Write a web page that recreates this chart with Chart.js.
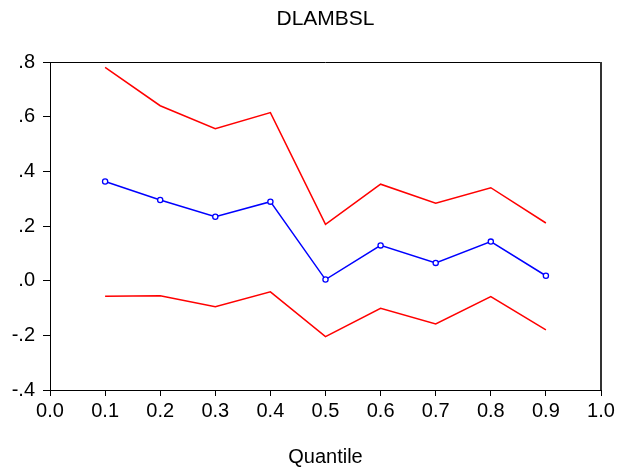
<!DOCTYPE html>
<html>
<head>
<meta charset="utf-8">
<script src="https://cdn.jsdelivr.net/npm/chart.js@4"></script>
<style>
html,body{margin:0;padding:0;background:#fff;}
#wrap{width:627px;height:473px;}
</style>
</head>
<body>
<div id="wrap"><canvas id="c" width="627" height="473"></canvas></div>
<script>
const chartTitle = 'DLAMBSL';
const xAxisTitle = 'Quantile';
const quantiles = [0.1, 0.2, 0.3, 0.4, 0.5, 0.6, 0.7, 0.8, 0.9];
const coef  = [0.363, 0.295, 0.234, 0.289, 0.004, 0.129, 0.065, 0.143, 0.018];
const upper = [0.780, 0.640, 0.556, 0.615, 0.206, 0.353, 0.283, 0.340, 0.211];
const lower = [-0.057, -0.055, -0.095, -0.041, -0.205, -0.101, -0.158, -0.058, -0.180];

const toPts = arr => quantiles.map((q, i) => ({x: q, y: arr[i]}));

const framePlugin = {
  id: 'frame',
  afterDraw(chart) {
    const {ctx, chartArea: a} = chart;
    ctx.save();
    ctx.strokeStyle = '#000';
    ctx.lineWidth = 1;
    ctx.beginPath();
    ctx.moveTo(a.left, a.top + 0.5);
    ctx.lineTo(a.right, a.top + 0.5);
    ctx.stroke();
    ctx.strokeStyle = '#333';
    ctx.lineWidth = 2;
    ctx.beginPath();
    ctx.moveTo(a.right, a.top);
    ctx.lineTo(a.right, a.bottom);
    ctx.stroke();
    ctx.restore();
  }
};

const font = 'Liberation Sans, Arial, sans-serif';

new Chart(document.getElementById('c'), {
  type: 'scatter',
  data: {
    datasets: [
      {data: toPts(upper), showLine: true, borderColor: '#ff0000', borderWidth: 1.5, pointRadius: 0, fill: false},
      {data: toPts(lower), showLine: true, borderColor: '#ff0000', borderWidth: 1.5, pointRadius: 0, fill: false},
      {data: toPts(coef), showLine: true, borderColor: '#0000ff', borderWidth: 1.5, pointRadius: 2.6,
       pointBorderWidth: 1.3, pointBorderColor: '#0000ff', pointBackgroundColor: '#ffffff', fill: false}
    ]
  },
  options: {
    responsive: false,
    animation: false,
    devicePixelRatio: 1,
    layout: {padding: {left: 0, right: 26, top: 0, bottom: 0}},
    plugins: {
      legend: {display: false},
      tooltip: {enabled: false},
      title: {
        display: true, text: chartTitle, color: '#000', fullSize: false,
        font: {family: font, size: 21, weight: 'normal'},
        padding: {top: 7, bottom: 29.8}
      }
    },
    scales: {
      x: {
        type: 'linear', min: 0, max: 1,
        afterFit: s => { s.height = 83; },
        grid: {drawOnChartArea: false, drawTicks: true, tickLength: 6, color: '#000'},
        border: {display: true, color: '#000', width: 1},
        ticks: {stepSize: 0.1, padding: 3, color: '#000', maxRotation: 0,
          font: {family: font, size: 20},
          callback: v => Number(v).toFixed(1)},
        title: {display: true, text: xAxisTitle, color: '#000',
          font: {family: font, size: 20}, padding: {top: 0, bottom: 4}}
      },
      y: {
        type: 'linear', min: -0.4, max: 0.8,
        afterFit: s => { s.width = 50; },
        grid: {drawOnChartArea: false, drawTicks: true, tickLength: 7, color: '#000'},
        border: {display: true, color: '#000', width: 1},
        ticks: {stepSize: 0.2, padding: 8, color: '#000',
          font: {family: font, size: 20},
          callback: v => Number(v).toFixed(1).replace('0.', '.')}
      }
    }
  },
  plugins: [framePlugin]
});
</script>
</body>
</html>
